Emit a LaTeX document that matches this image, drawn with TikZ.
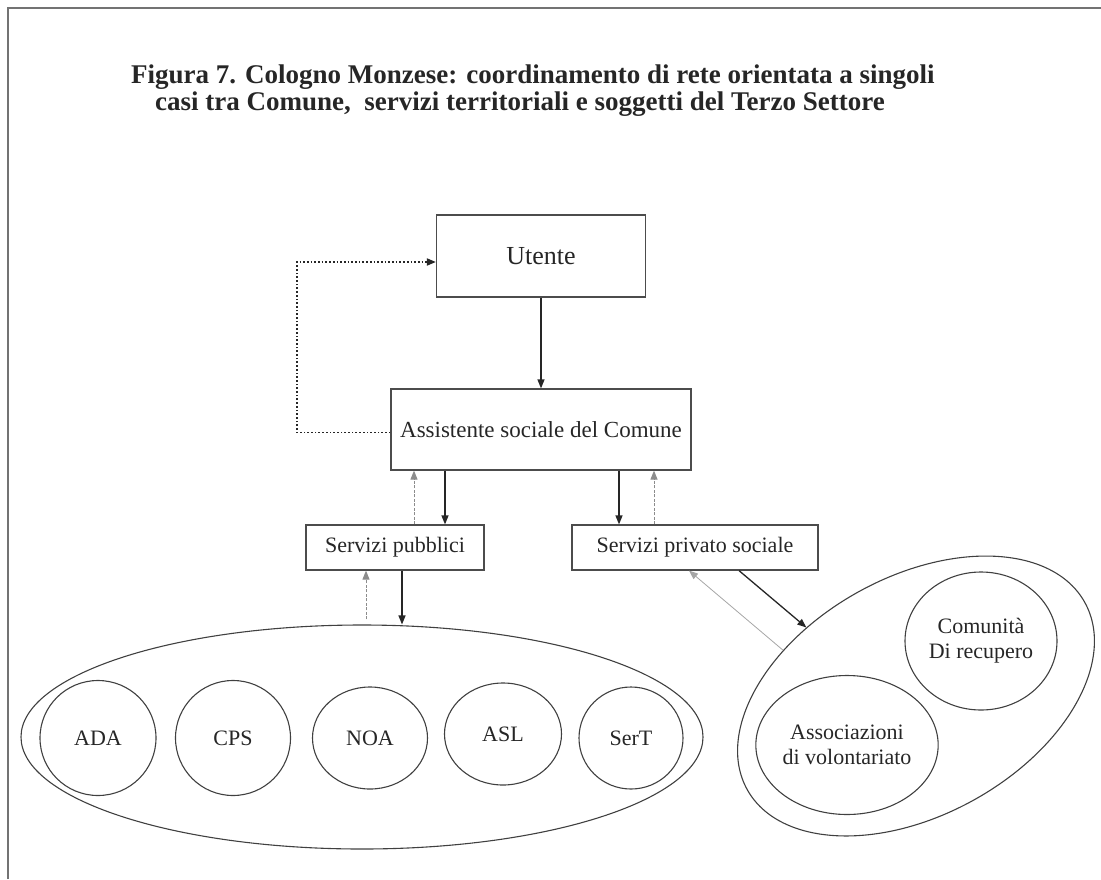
\documentclass[tikz,border=0pt]{standalone}
\usepackage{fontspec}
\setmainfont{Liberation Serif}
\usetikzlibrary{shapes.geometric,arrows.meta,calc}
\begin{document}
\begin{tikzpicture}[x=1pt,y=-1pt,
  every node/.style={text=black!85},
  titletext/.style={anchor=base west, inner sep=0pt, font=\fontsize{27}{29}\selectfont\bfseries},
  box/.style={draw=black!70, line width=1.2pt, inner sep=0pt, align=center},
  oval/.style={ellipse, draw=black!75, line width=1.1pt, inner sep=0pt, align=center},
  lbl/.style={font=\fontsize{22}{25}\selectfont},
  tip/.style={-{Triangle[length=9pt,width=7pt]}},
  flow/.style={tip, draw=black!85, line width=1.3pt},
  loopback/.style={tip, draw=black!85, line width=1.7pt, dotted},
  feedback/.style={tip, draw=black!45, line width=1pt, dash pattern=on 3pt off 1.5pt},
  faint/.style={tip, draw=black!35, line width=0.8pt}
]
\useasboundingbox (0,0) rectangle (1101,879);

% frame
\draw[black!55, line width=2pt] (8,879) -- (8,8) -- (1101,8);

% title
\node[titletext] (t1) at (131,83) {Figura 7. Cologno Monzese: coordinamento di rete orientata a singoli};
\node[titletext] (t2) at (155,110) {casi tra Comune,\ \ servizi territoriali e soggetti del Terzo Settore};

% boxes
\node[box, minimum width=209, minimum height=82, font=\fontsize{26}{28}\selectfont] (ut) at (541,256) {Utente};
\node[box, minimum width=300, minimum height=81, font=\fontsize{23}{25}\selectfont] (as) at (541,429.5) {Assistente sociale del Comune};
\node[box, minimum width=178, minimum height=45, font=\fontsize{22}{25}\selectfont] (pub) at (395,547.5) {Servizi pubblici};
\node[box, minimum width=246, minimum height=45, font=\fontsize{22}{25}\selectfont] (priv) at (695,547.5) {Servizi privato sociale};

% public services group
\node[oval, minimum width=682, minimum height=224] (pubg) at (362,737) {};
\node[oval, lbl, minimum width=116, minimum height=115] (ada) at (98,738) {ADA};
\node[oval, lbl, minimum width=115, minimum height=115] (cps) at (233,738) {CPS};
\node[oval, lbl, minimum width=115, minimum height=102] (noa) at (370,738) {NOA};
\node[oval, lbl, minimum width=117, minimum height=102] (asl) at (503,734) {ASL};
\node[oval, lbl, minimum width=104, minimum height=102] (sert) at (631,738) {SerT};

% private social group
\node[oval, minimum width=386, minimum height=238, rotate=29] (privg) at (916,696) {};
\node[oval, lbl, minimum width=152, minimum height=138] (com) at (981,641) {Comunità\\Di recupero};
\node[oval, lbl, minimum width=161, minimum height=139] (ass) at (847,745) {Associazioni\\di volontariato};

% connectors
\draw[flow] (ut.south) -- (as.north);
\draw[loopback] ([yshift=-3pt]as.west) -| (297,262) -- ([yshift=-6pt]ut.west);

\draw[flow] ([xshift=-96pt]as.south) -- ([xshift=-96pt]as.south |- pub.north);
\draw[feedback] ([xshift=-127pt]as.south |- pub.north) -- ([xshift=-127pt]as.south);
\draw[flow] ([xshift=78pt]as.south) -- ([xshift=78pt]as.south |- priv.north);
\draw[feedback] ([xshift=113pt]as.south |- priv.north) -- ([xshift=113pt]as.south);

\draw[flow] ([xshift=7pt]pub.south) -- ([xshift=7pt]pub.south |- pubg.north);
\draw[feedback] ([xshift=-29pt,yshift=5pt]pub.south |- pubg.north) -- ([xshift=-29pt]pub.south);

\draw[flow] ([xshift=44pt]priv.south) -- (privg.119);
\draw[faint] (privg.132) -- ([xshift=-6pt]priv.south);
\end{tikzpicture}
\end{document}
